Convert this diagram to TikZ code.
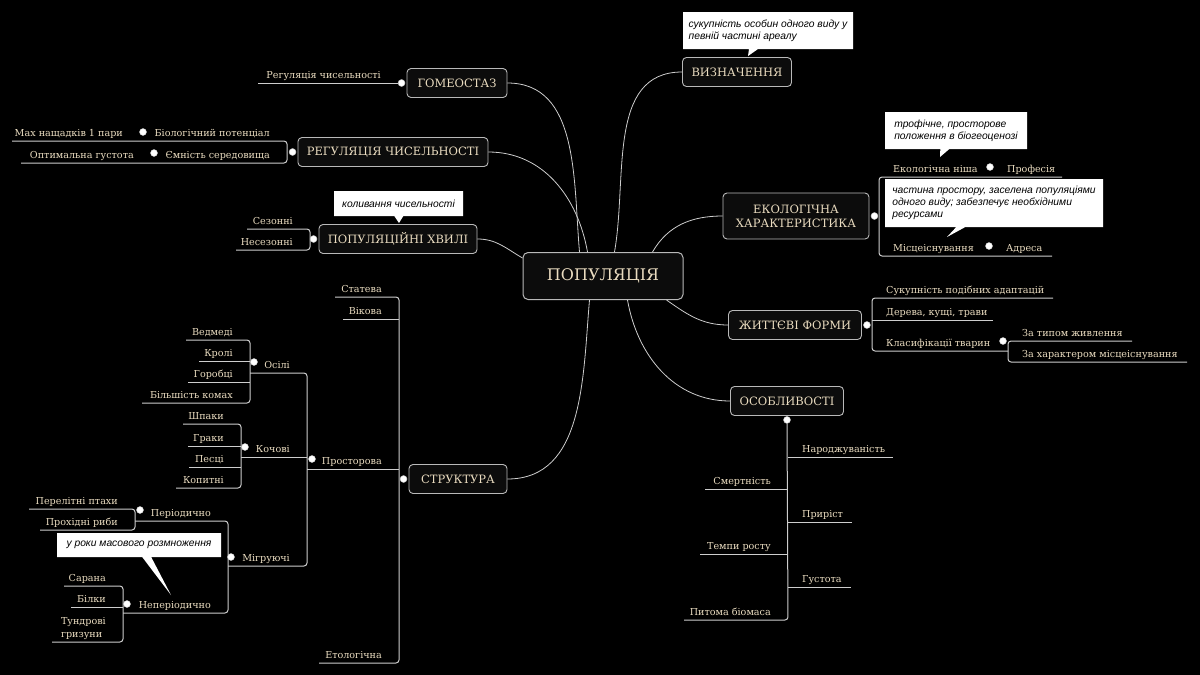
\documentclass[tikz,border=0pt]{standalone}
\usepackage{fontspec}
\setmainfont{DejaVu Serif}
\newfontfamily\notefont{Liberation Sans}
\usetikzlibrary{calc, shapes.callouts}
\definecolor{ink}{RGB}{234,220,192}
\definecolor{wire}{RGB}{205,205,205}
\definecolor{edge}{RGB}{185,185,185}
\definecolor{boxfill}{RGB}{12,12,12}
\tikzset{
  root node/.style={draw=edge, fill=boxfill, rounded corners=5pt, line width=1pt, text=ink,
    font=\fontsize{16}{19}\selectfont, minimum width=160pt, minimum height=47pt},
  topic node/.style={draw=edge, fill=boxfill, rounded corners=4pt, line width=0.9pt, text=ink,
    font=\fontsize{11.5}{14}\selectfont, minimum height=29pt, inner xsep=4pt},
  leaf/.style={text=ink, inner sep=0pt, font=\fontsize{9.6}{11}\selectfont},
  knob/.style={circle, fill=white, draw=black!25, line width=0.4pt, inner sep=0pt, minimum size=7pt},
  branch line/.style={draw=wire, line width=1pt, rounded corners=3pt},
  link curve/.style={draw=wire, line width=0.8pt},
  note/.style={rectangle callout, fill=white, text=black, align=left, inner sep=3pt,
    callout pointer width=9pt, font=\notefont\itshape\fontsize{10.3}{12}\selectfont},
}
\newcommand{\leafL}[6][]{
  \coordinate (#2-l) at (#3,-#5);
  \coordinate (#2-r) at (#4,-#5);
  \node[leaf, anchor=base east, #1] (#2) at ($(#2-r)+(-17,5)$) {#6};
}
\newcommand{\leafR}[6][]{
  \coordinate (#2-l) at (#3,-#5);
  \coordinate (#2-r) at (#4,-#5);
  \node[leaf, anchor=base west, #1] (#2) at ($(#2-l)+(14,5)$) {#6};
}

\begin{document}
\begin{tikzpicture}[x=1pt, y=1pt]
  \useasboundingbox (0,0) rectangle (1200,-675);
  \fill[black] (0,0) rectangle (1200,-675);

  \node[root node] (pop) at (603,-276) {ПОПУЛЯЦІЯ};
  \node[topic node, minimum width=100pt] (homeo) at (457,-83) {ГОМЕОСТАЗ};
  \node[topic node, minimum width=190pt] (regul) at (393,-152) {РЕГУЛЯЦІЯ ЧИСЕЛЬНОСТІ};
  \node[topic node, minimum width=158pt] (hvyli) at (398,-239) {ПОПУЛЯЦІЙНІ ХВИЛІ};
  \node[topic node, minimum width=98pt] (strukt) at (458,-479) {СТРУКТУРА};
  \node[topic node, minimum width=109pt] (vyzn) at (737,-72) {ВИЗНАЧЕННЯ};
  \node[topic node, minimum width=146pt, minimum height=46pt, align=center] (ekol) at (796,-216) {ЕКОЛОГІЧНА\\ХАРАКТЕРИСТИКА};
  \node[topic node, minimum width=133pt] (zhytt) at (795,-325) {ЖИТТЄВІ ФОРМИ};
  \node[topic node, minimum width=113pt] (osobl) at (787,-401) {ОСОБЛИВОСТІ};

  \draw[link curve] ([xshift=57pt]pop.north west) to[out=95,in=0] (homeo.east);
  \draw[link curve] ([xshift=65pt]pop.north west) to[out=100,in=0] (regul.east);
  \draw[link curve] ([yshift=-6pt]pop.north west) to[out=150,in=0] (hvyli.east);
  \draw[link curve] ([xshift=92pt]pop.north west) to[out=80,in=180] (vyzn.west);
  \draw[link curve] ([xshift=130pt]pop.north west) to[out=60,in=180] (ekol.west);
  \draw[link curve] ([xshift=144pt]pop.south west) to[out=-35,in=180] (zhytt.west);
  \draw[link curve] ([xshift=105pt]pop.south west) to[out=-80,in=180] (osobl.west);
  \draw[link curve] ([xshift=67pt]pop.south west) to[out=-95,in=0] (strukt.east);

  \leafL{homeoreg}{258}{398}{83}{Регуляція чисельності}
  \leafL{biopot}{140}{287}{141}{Біологічний потенціал}
  \leafL{maxnasch}{12}{140}{141}{Max нащадків 1 пари}
  \leafL{yemnist}{151}{287}{163}{Ємність середовища}
  \leafL{optym}{21}{151}{163}{Оптимальна густота}
  \leafL{sezonni}{247}{310}{229}{Сезонні}
  \leafL{nesezonni}{236}{310}{250}{Несезонні}
  \leafL{stateva}{335}{399}{297}{Статева}
  \leafL{vikova}{343}{399}{319}{Вікова}
  \leafL{prostor}{307}{399}{469}{Просторова}
  \leafL{etol}{319}{399}{663}{Етологічна}
  \leafL{osili}{250}{307}{373}{Осілі}
  \leafL{kochovi}{241}{307}{457}{Кочові}
  \leafL{migr}{228}{307}{566}{Мігруючі}
  \leafL{vedmedi}{186}{250}{340}{Ведмеді}
  \leafL{kroli}{199}{250}{361}{Кролі}
  \leafL{horobtsi}{188}{250}{382}{Горобці}
  \leafL{komakhy}{142}{250}{403}{Більшість комах}
  \leafL{shpaky}{183}{241}{424}{Шпаки}
  \leafL{hraky}{188}{241}{446}{Граки}
  \leafL{pestsi}{189}{241}{467}{Песці}
  \leafL{kopytni}{176}{241}{488}{Копитні}
  \leafL{period}{135}{228}{521}{Періодично}
  \leafL{neperiod}{123}{228}{613}{Неперіодично}
  \leafL{ptakhy}{29}{135}{509}{Перелітні птахи}
  \leafL{ryby}{40}{135}{530}{Прохідні риби}
  \leafL{sarana}{64}{123}{586}{Сарана}
  \leafL{bilky}{71}{123}{607}{Білки}
  \leafL[anchor=south east, yshift=-3pt, align=left, font=\fontsize{9.6}{13}\selectfont]{hryzuny}{52}{123}{642}{Тундрові\\гризуни}

  \leafR{nisha}{879}{986}{177}{Екологічна ніша}
  \leafR{profesiya}{993}{1062}{177}{Професія}
  \leafR{mistse}{879}{985}{256}{Місцеіснування}
  \leafR{adresa}{992}{1052}{256}{Адреса}
  \leafR{adapt}{872}{1053}{298}{Сукупність подібних адаптацій}
  \leafR{derevo}{872}{993}{320}{Дерева, кущі, трави}
  \leafR{klasyf}{872}{1008}{351}{Класифікації тварин}
  \leafR{typ}{1008}{1132}{341}{За типом живлення}
  \leafR{kharakter}{1008}{1187}{362}{За характером місцеіснування}
  \leafR{narodzh}{788}{893}{457}{Народжуваність}
  \leafR{pryrist}{788}{852}{522}{Приріст}
  \leafR{hustota}{788}{851}{587}{Густота}
  \leafL{smertn}{705}{788}{489}{Смертність}
  \leafL{tempy}{700}{788}{554}{Темпи росту}
  \leafL{biomasa}{684}{788}{620}{Питома біомаса}

  \node[knob] (homeo-k) at ([xshift=-5pt]homeo.west) {};
  \node[knob] (regul-k) at ([xshift=-5pt]regul.west) {};
  \node[knob] (hvyli-k) at ([xshift=-5pt]hvyli.west) {};
  \node[knob] (strukt-k) at ([xshift=-5pt]strukt.west) {};
  \node[knob] (ekol-k) at ([xshift=5pt]ekol.east) {};
  \node[knob] (zhytt-k) at ([xshift=5pt]zhytt.east) {};
  \node[knob] (osobl-k) at ([yshift=-4pt]osobl.south) {};

  \draw[branch line] (homeoreg-l) -- (homeoreg-r);
  \draw[branch line] (maxnasch-l) -- (biopot-r) -- (yemnist-r) -- (optym-l);
  \draw[branch line] (sezonni-l) -- (sezonni-r) -- (nesezonni-r) -- (nesezonni-l);
  \draw[branch line] (stateva-l) -- (stateva-r) -- (etol-r) -- (etol-l);
  \draw[branch line] (vikova-l) -- (vikova-r);
  \draw[branch line] (prostor-l) -- (prostor-r);
  \draw[branch line] (osili-l) -- (osili-r) -- (migr-r) -- (migr-l);
  \draw[branch line] (kochovi-l) -- (kochovi-r);
  \draw[branch line] (vedmedi-l) -- (vedmedi-r) -- (komakhy-r) -- (komakhy-l);
  \draw[branch line] (kroli-l) -- (kroli-r);
  \draw[branch line] (horobtsi-l) -- (horobtsi-r);
  \draw[branch line] (shpaky-l) -- (shpaky-r) -- (kopytni-r) -- (kopytni-l);
  \draw[branch line] (hraky-l) -- (hraky-r);
  \draw[branch line] (pestsi-l) -- (pestsi-r);
  \draw[branch line] (period-l) -- (period-r) -- (neperiod-r) -- (neperiod-l);
  \draw[branch line] (ptakhy-l) -- (ptakhy-r) -- (ryby-r) -- (ryby-l);
  \draw[branch line] (sarana-l) -- (sarana-r) -- (hryzuny-r) -- (hryzuny-l);
  \draw[branch line] (bilky-l) -- (bilky-r);
  \draw[branch line] (profesiya-r) -- (nisha-l) -- (mistse-l) -- (adresa-r);
  \draw[branch line] (adapt-r) -- (adapt-l) -- (klasyf-l) -- (klasyf-r);
  \draw[branch line] (derevo-l) -- (derevo-r);
  \draw[branch line] (typ-r) -- (typ-l) -- (kharakter-l) -- (kharakter-r);
  \draw[branch line] (osobl-k.south) -- (biomasa-r) -- (biomasa-l);
  \draw[branch line] (narodzh-l) -- (narodzh-r);
  \draw[branch line] (pryrist-l) -- (pryrist-r);
  \draw[branch line] (hustota-l) -- (hustota-r);
  \draw[branch line] (smertn-l) -- (smertn-r);
  \draw[branch line] (tempy-l) -- (tempy-r);

  \node[knob] (biopot-k) at ($(biopot-l)+(3,9)$) {};
  \node[knob] (yemnist-k) at ($(yemnist-l)+(3,10)$) {};
  \node[knob] (nisha-k) at ($(nisha-r)+(4,10)$) {};
  \node[knob] (mistse-k) at ($(mistse-r)+(4,10)$) {};
  \node[knob] (klasyf-k) at ($(klasyf-r)+(-5,10)$) {};
  \node[knob] (prostor-k) at ($(prostor-l)+(5,10)$) {};
  \node[knob] (osili-k) at ($(osili-l)+(4,11)$) {};
  \node[knob] (kochovi-k) at ($(kochovi-l)+(4,10)$) {};
  \node[knob] (migr-k) at ($(migr-l)+(3,9)$) {};
  \node[knob] (period-k) at ($(period-l)+(5,11)$) {};
  \node[knob] (neperiod-k) at ($(neperiod-l)+(4,9)$) {};

  \coordinate (vyzn-tip) at ($(vyzn.north)+(11,1)$);
  \coordinate (nisha-tip) at ($(nisha-l)+(61,20)$);
  \coordinate (mistse-tip) at ($(mistse-l)+(68,19)$);
  \coordinate (hvyli-tip) at ($(hvyli.north)+(1,1)$);
  \coordinate (neperiod-tip) at ($(neperiod-l)+(48,18)$);
  \node[note, minimum width=170pt, minimum height=37pt, callout absolute pointer=(vyzn-tip)] (vyzn-note) at (768,-30.5) {сукупність особин одного виду у\\певній частині ареалу};
  \node[note, minimum width=142pt, minimum height=37pt, callout absolute pointer=(nisha-tip)] (nisha-note) at (956,-130.5) {трофічне, просторове\\положення в біогеоценозі};
  \node[note, minimum width=218pt, minimum height=48pt, callout absolute pointer=(mistse-tip)] (mistse-note) at (994,-203) {частина простору, заселена популяціями\\одного виду; забезпечує необхідними\\ресурсами};
  \node[note, minimum width=129pt, minimum height=25pt, callout absolute pointer=(hvyli-tip)] (hvyli-note) at (398.5,-203.5) {коливання чисельності};
  \node[note, minimum width=164pt, minimum height=24pt, callout absolute pointer=(neperiod-tip)] (neperiod-note) at (139,-545) {у роки масового розмноження};
\end{tikzpicture}
\end{document}
